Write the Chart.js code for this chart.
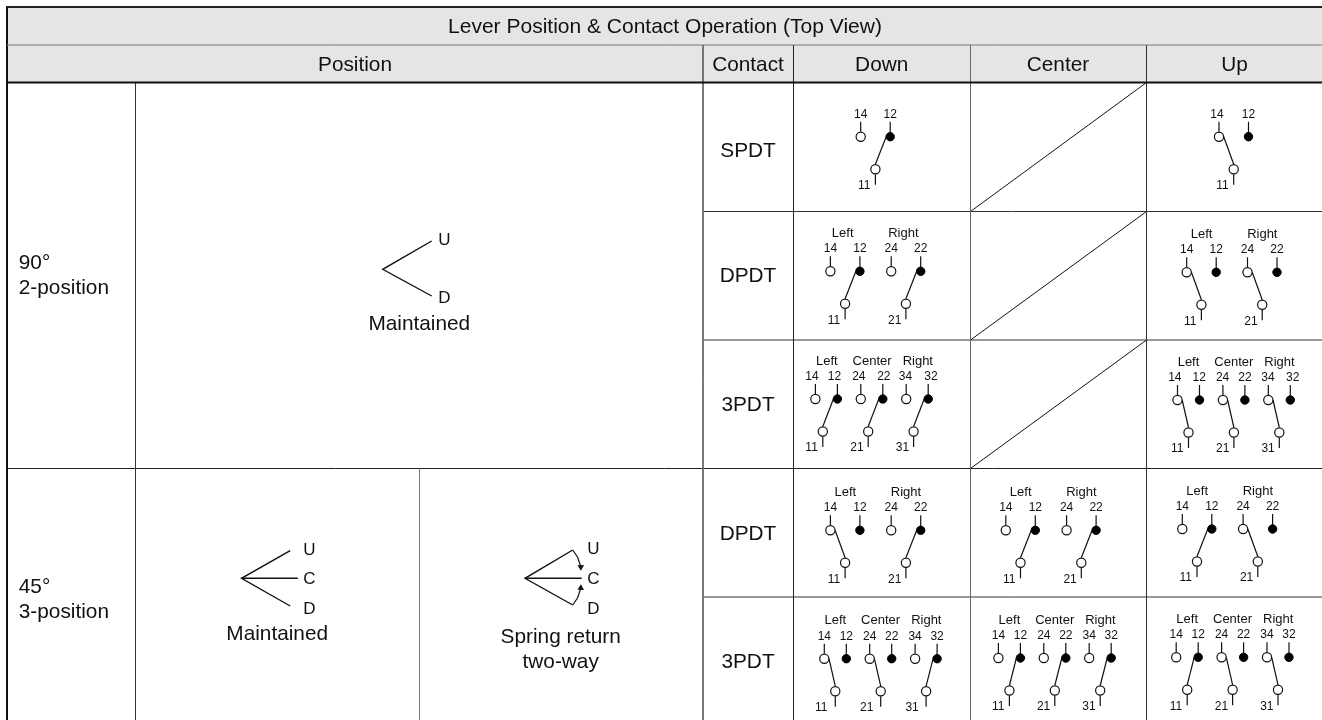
<!DOCTYPE html>
<html>
<head>
<meta charset="utf-8">
<title>Lever Position & Contact Operation</title>
<script src="https://cdn.jsdelivr.net/npm/chart.js@4/dist/chart.umd.min.js"></script>
<style>
  html, body { margin: 0; padding: 0; background: #fff; overflow: hidden; }
  canvas { display: block; }
</style>
</head>
<body>
<canvas id="table-chart" width="1322" height="720"></canvas>
<script>
// table content
const title = "Lever Position & Contact Operation (Top View)";
const columnHeads = ["Position", "Contact", "Down", "Center", "Up"];
const contactNames = ["SPDT", "DPDT", "3PDT", "DPDT", "3PDT"];
const angleLabels = [["90°", "2-position"], ["45°", "3-position"]];
const maintainedLabel = "Maintained";
const springLabels = ["Spring return", "two-way"];
const leverLetters2 = ["U", "D"];
const leverLetters3 = ["U", "C", "D"];
const poleNames2 = ["Left", "Right"];
const poleNames3 = ["Left", "Center", "Right"];
const openTerminals = ["14", "24", "34"];
const closedTerminals = ["12", "22", "32"];
const commonTerminals = ["11", "21", "31"];

// lever state of each pole per row: 1 = on the black contact, 0 = on the white one
const downStates = [[1], [1, 1], [1, 1, 1], [0, 1], [0, 0, 1]];
const centerStates = [null, null, null, [1, 1], [1, 1, 1]];
const upStates = [[0], [0, 0], [0, 0, 0], [1, 0], [1, 0, 0]];

// layout, in picture pixels
const colX = [7, 135.5, 419.5, 703, 793.5, 970.5, 1146.5, 1322];
const rowY = [7, 45, 82.5, 211.5, 340, 468.5, 597, 720];
const downX = [860.7, 830.4, 815.4, 830.4, 824.3];
const downY = [136.7, 271.3, 399, 530.3, 658.7];
const centerX = [0, 0, 0, 1005.8, 998.4];
const centerY = [0, 0, 0, 530.3, 658];
const upX = [1219, 1186.7, 1177.5, 1182.3, 1176.2];
const upY = [136.7, 272.3, 400, 529, 657.3];
const contactY = [151, 276, 405, 534, 662];
const poleLayout = {
    1: { gap: 29.5, pitch: 0, low: 14.7, heads: [] },
    2: { gap: 29.5, pitch: 60.8, low: 14.7, heads: [14.9, 75.6] },
    3: { gap: 22, pitch: 45.4, low: 11, heads: [11, 56.3, 102] }
};
const BIG = 20.8, SMALL = 12, NAME = 13, LETTER = 17;

var lines = [];
var whiteDots = [];
var blackDots = [];
var texts = [];

function line(points, color, width) {
    lines.push({
        type: "line",
        data: points.map(function (p) { return { x: p[0], y: p[1] }; }),
        borderColor: color || "#111",
        borderWidth: width || 1.2,
        pointRadius: 0,
        tension: 0,
        order: 5
    });
}

function text(str, x, y, size, align) {
    texts.push({ str: str, x: x, y: y, size: size, align: align || "center" });
}

function drawDiagram(states, x0, y0, opts) {
    if (!states) return;
    opts = opts || {};
    const n = states.length;
    const g = poleLayout[n];
    const names = n === 2 ? poleNames2 : poleNames3;
    const low = opts.low !== undefined ? opts.low : g.low;
    const lowY = y0 + 32.5;
    states.forEach(function (state, i) {
        const openX = x0 + i * g.pitch;
        const closedX = openX + g.gap;
        const lowX = openX + low;
        const shift = opts.numShift ? opts.numShift : [0, 0, 0, 0, 0, 0];
        whiteDots.push({ x: openX, y: y0 });
        blackDots.push({ x: closedX, y: y0 });
        whiteDots.push({ x: lowX, y: lowY });
        line([[openX, y0 - 15], [openX, y0 - 5]]);
        line([[closedX, y0 - 15], [closedX, y0 - 4]]);
        line([[lowX, lowY + 5], [lowX, lowY + 15.5]]);
        if (state) line([[lowX, lowY - 5], [closedX - 4, y0]]);
        else line([[openX + 4.7, y0], [lowX, lowY - 5]]);
        text(openTerminals[i], openX + shift[i * 2], y0 - 22.5, SMALL);
        text(closedTerminals[i], closedX + shift[i * 2 + 1], y0 - 22.5, SMALL);
        text(commonTerminals[i], lowX + (opts.lowLabel || -11.2), lowY + 16.5, SMALL);
        if (n > 1) text(names[i], x0 + g.heads[i] + (opts.headShift || 0), y0 - 38, NAME);
    });
}

// header band and grid
const headerBand = {
    type: "line",
    data: [{ x: colX[0], y: rowY[0] }, { x: colX[7], y: rowY[0] }],
    borderWidth: 0,
    pointRadius: 0,
    backgroundColor: "#e5e5e5",
    fill: { value: rowY[2] },
    order: 9
};
line([[colX[0], rowY[0]], [colX[7], rowY[0]]], "#222", 2);
line([[colX[0], rowY[1]], [colX[7], rowY[1]]], "#777", 1);
line([[colX[0], rowY[2]], [colX[7], rowY[2]]], "#111", 2);
line([[colX[0], rowY[0] - 1], [colX[0], rowY[7]]], "#111", 2);
line([[colX[1], rowY[2]], [colX[1], rowY[7]]], "#333", 1);
line([[colX[2], rowY[5]], [colX[2], rowY[7]]], "#777", 1);
line([[colX[3], rowY[1]], [colX[3], rowY[7]]], "#666", 1);
line([[colX[4], rowY[1]], [colX[4], rowY[7]]], "#222", 1);
line([[colX[5], rowY[1]], [colX[5], rowY[7]]], "#666", 1);
line([[colX[6], rowY[1]], [colX[6], rowY[7]]], "#333", 1);
line([[colX[3], rowY[3]], [colX[7], rowY[3]]], "#333", 1);
line([[colX[3], rowY[4]], [colX[7], rowY[4]]], "#333", 1);
line([[colX[0], rowY[5]], [colX[7], rowY[5]]], "#222", 1);
line([[colX[3], rowY[6]], [colX[7], rowY[6]]], "#333", 1);

// rows without a center position get a diagonal
centerStates.forEach(function (states, i) {
    if (states) return;
    line([[colX[5], rowY[i + 3]], [colX[6], rowY[i + 2]]], "#111", 1);
});

// contact diagrams
const row3DownShift = [-3.4, -3, -2, 1, -0.7, 2.7];
const row3UpShift = [-2.7, -0.3, -0.3, 0, -0.3, 2.4];
downStates.forEach(function (s, i) {
    var opts = {};
    if (i === 1) opts.headShift = -2.6;
    if (i === 2) { opts.low = 7.4; opts.numShift = row3DownShift; opts.headShift = 0.4; }
    if (i === 4) opts.lowLabel = -14;
    drawDiagram(s, downX[i], downY[i], opts);
});
centerStates.forEach(function (s, i) {
    drawDiagram(s, centerX[i], centerY[i]);
});
upStates.forEach(function (s, i) {
    var opts = {};
    if (i === 0) opts.numShift = [-2, 0];
    if (i === 2) opts.numShift = row3UpShift;
    drawDiagram(s, upX[i], upY[i], opts);
});

// lever symbols
line([[431.7, 241], [382.7, 269.3], [431.7, 296]], "#111", 1.4);
line([[290.2, 550.7], [241.5, 578.3], [290.2, 606]], "#111", 1.4);
line([[241.5, 578.3], [297.8, 578.3]], "#111", 1.4);
line([[572.7, 550], [525, 578.3], [572.7, 605]], "#111", 1.4);
line([[525, 578.3], [581.7, 578.3]], "#111", 1.4);
line([[572.7, 550], [577.5, 557], [580.6, 566]], "#111", 1.2);
line([[572.7, 605], [577.5, 598], [580.6, 589]], "#111", 1.2);

text(title, 665, 27.5, 21);
const headX = [355, 748, 881.7, 1058, 1234.5];
columnHeads.forEach(function (h, i) { text(h, headX[i], 65.5, BIG); });
contactNames.forEach(function (c, i) { text(c, 748, contactY[i], BIG); });
text(angleLabels[0][0], 18.8, 263.5, BIG, "left");
text(angleLabels[0][1], 18.8, 288, BIG, "left");
text(angleLabels[1][0], 18.8, 587.7, BIG, "left");
text(angleLabels[1][1], 18.8, 612.3, BIG, "left");
text(maintainedLabel, 419.3, 324.5, BIG);
text(maintainedLabel, 277.2, 634.7, BIG);
text(springLabels[0], 560.7, 637.7, BIG);
text(springLabels[1], 560.7, 662.7, BIG);
text(leverLetters2[0], 444.3, 240, LETTER);
text(leverLetters2[1], 444.3, 298.8, LETTER);
const letterY = [550.5, 579.2, 609.2];
leverLetters3.forEach(function (l, i) {
    text(l, 309.4, letterY[i], LETTER);
    text(l, 593.3, i === 0 ? 549.2 : letterY[i], LETTER);
});

const tablePlugin = {
    id: "tableText",
    afterDatasetsDraw: function (chart) {
        const ctx = chart.ctx;
        const sx = chart.scales.x, sy = chart.scales.y;
        ctx.save();
        ctx.fillStyle = "#111";
        ctx.textBaseline = "middle";
        texts.forEach(function (t) {
            ctx.font = t.size + 'px "Liberation Sans"';
            ctx.textAlign = t.align;
            ctx.fillText(t.str, sx.getPixelForValue(t.x), sy.getPixelForValue(t.y));
        });
        ctx.restore();
    }
};

const ctx = document.getElementById("table-chart").getContext("2d");
new Chart(ctx, {
    type: "scatter",
    data: {
        datasets: [headerBand].concat(lines).concat([
            {
                data: whiteDots,
                backgroundColor: "#fff",
                borderColor: "#111",
                borderWidth: 1.2,
                pointRadius: 4.6,
                order: 1
            },
            {
                data: blackDots,
                backgroundColor: "#000",
                borderColor: "#000",
                borderWidth: 1,
                pointRadius: 4.2,
                order: 1
            },
            {
                data: [{ x: 580.8, y: 567 }],
                backgroundColor: "#111",
                borderWidth: 0,
                pointStyle: "triangle",
                pointRotation: 178,
                pointRadius: 3.8,
                order: 1
            },
            {
                data: [{ x: 580.8, y: 588 }],
                backgroundColor: "#111",
                borderWidth: 0,
                pointStyle: "triangle",
                pointRotation: 2,
                pointRadius: 3.8,
                order: 1
            }
        ])
    },
    options: {
        responsive: false,
        animation: false,
        layout: { padding: 0, autoPadding: false },
        plugins: { legend: { display: false }, tooltip: { enabled: false } },
        scales: {
            x: { type: "linear", min: 0, max: 1322, display: false },
            y: { type: "linear", min: 0, max: 720, reverse: true, display: false }
        }
    },
    plugins: [tablePlugin]
});
</script>
</body>
</html>
